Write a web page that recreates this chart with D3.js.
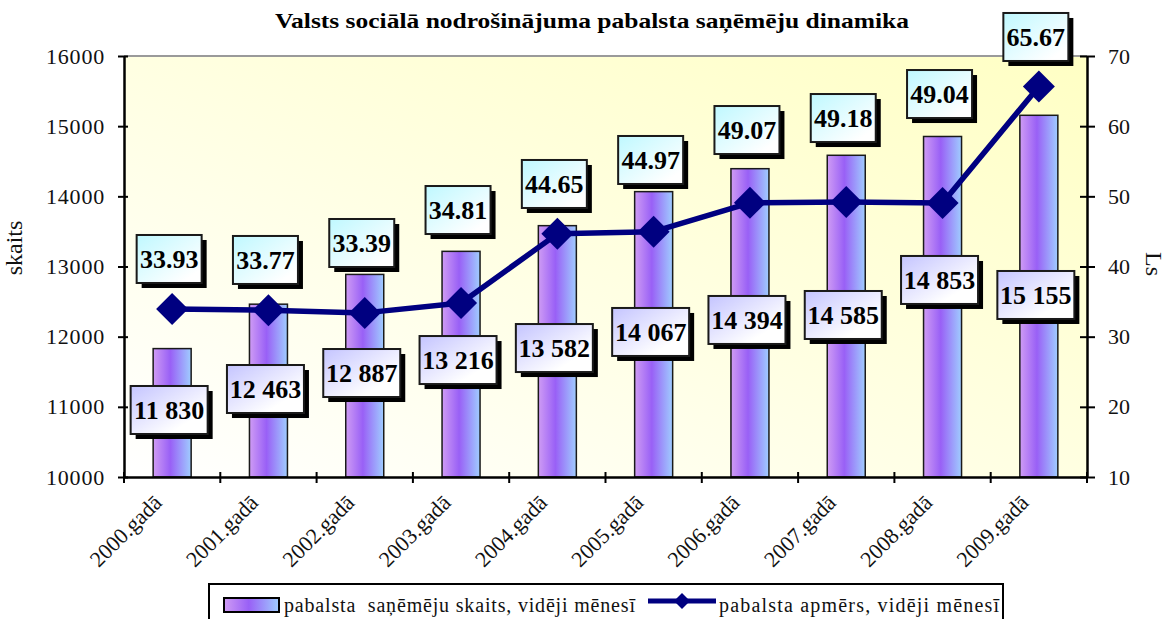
<!DOCTYPE html>
<html>
<head>
<meta charset="utf-8">
<script src="https://cdn.jsdelivr.net/npm/d3@7"></script>
<style>
  text { font-family: "Liberation Serif", "Times New Roman", serif !important; }
</style>
</head>
<body style="margin:0">
<script>
// data
const years = ['2000.gadā', '2001.gadā', '2002.gadā', '2003.gadā', '2004.gadā',
               '2005.gadā', '2006.gadā', '2007.gadā', '2008.gadā', '2009.gadā'];
const recipients = [11830, 12463, 12887, 13216, 13582, 14067, 14394, 14585, 14853, 15155];
const amounts = [33.93, 33.77, 33.39, 34.81, 44.65, 44.97, 49.07, 49.18, 49.04, 65.67];
const leftTicks = [10000, 11000, 12000, 13000, 14000, 15000, 16000];
const rightTicks = [10, 20, 30, 40, 50, 60, 70];
// where the value boxes sit (in axis units), they were dragged by hand in the original
const barLabelAt = [10955, 11254, 11482, 11667, 11838, 12067, 12238, 12309, 12808, 12594];
const lineLabelAt = [41.07, 40.93, 43.35, 48.05, 51.76, 55.18, 59.45, 61.16, 64.58, 72.71];

const W = 1169, H = 619;
const plot = { left: 124, right: 1087, top: 56, bottom: 477 };
const SERIF = '"Liberation Serif"';

const svg = d3.select('body').append('svg')
  .attr('width', W).attr('height', H);

const defs = svg.append('defs');

const bg = defs.append('linearGradient').attr('id', 'bgGrad')
  .attr('x1', 0).attr('y1', 1).attr('x2', 1).attr('y2', 0);
bg.append('stop').attr('offset', 0).attr('stop-color', '#ffffff');
bg.append('stop').attr('offset', 1).attr('stop-color', '#ffffc4');

const barGrad = defs.append('linearGradient').attr('id', 'barGrad')
  .attr('x1', 0).attr('y1', 0).attr('x2', 1).attr('y2', 0);
barGrad.append('stop').attr('offset', 0).attr('stop-color', '#cf9cf4');
barGrad.append('stop').attr('offset', 0.45).attr('stop-color', '#9960f6');
barGrad.append('stop').attr('offset', 1).attr('stop-color', '#9fcdff');

const lavGrad = defs.append('linearGradient').attr('id', 'lavGrad')
  .attr('x1', 0).attr('y1', 0).attr('x2', 1).attr('y2', 1);
lavGrad.append('stop').attr('offset', 0).attr('stop-color', '#c4c4ff');
lavGrad.append('stop').attr('offset', 0.75).attr('stop-color', '#ffffff');

const cyanGrad = defs.append('linearGradient').attr('id', 'cyanGrad')
  .attr('x1', 0).attr('y1', 0).attr('x2', 1).attr('y2', 1);
cyanGrad.append('stop').attr('offset', 0).attr('stop-color', '#bff8ff');
cyanGrad.append('stop').attr('offset', 0.85).attr('stop-color', '#ffffff');

const x = d3.scaleBand().domain(years).range([plot.left, plot.right]);
const yL = d3.scaleLinear().domain([10000, 16000]).range([plot.bottom, plot.top]);
const yR = d3.scaleLinear().domain([10, 70]).range([plot.bottom, plot.top]);
const cx = d => x(d) + x.bandwidth() / 2;

// title
svg.append('text')
  .attr('x', 592).attr('y', 28)
  .attr('text-anchor', 'middle')
  .attr('font-weight', 'bold').attr('font-size', 22)
  .attr('textLength', 634).attr('lengthAdjust', 'spacingAndGlyphs')
  .text('Valsts sociālā nodrošinājuma pabalsta saņēmēju dinamika');

// plot area
svg.append('rect')
  .attr('x', plot.left).attr('y', plot.top)
  .attr('width', plot.right - plot.left).attr('height', plot.bottom - plot.top)
  .attr('fill', 'url(#bgGrad)');
svg.append('line')
  .attr('x1', plot.left).attr('x2', plot.right)
  .attr('y1', plot.top).attr('y2', plot.top)
  .attr('stroke', '#9a9a9a').attr('stroke-width', 2);

// bars
const barW = 38;
svg.append('g').selectAll('rect')
  .data(years)
  .join('rect')
  .attr('x', d => cx(d) - barW / 2)
  .attr('y', (d, i) => yL(recipients[i]))
  .attr('width', barW)
  .attr('height', (d, i) => plot.bottom - yL(recipients[i]))
  .attr('fill', 'url(#barGrad)')
  .attr('stroke', '#1a1a1a').attr('stroke-width', 1.5);

// axes
const axL = svg.append('g').attr('transform', `translate(${plot.left},0)`)
  .call(d3.axisLeft(yL).tickValues(leftTicks).tickFormat(d3.format('d'))
    .tickSize(6).tickSizeOuter(0).tickPadding(13));
axL.selectAll('.tick line').attr('x2', -6).attr('x1', 4);
const axR = svg.append('g').attr('transform', `translate(${plot.right},0)`)
  .call(d3.axisRight(yR).tickValues(rightTicks).tickSize(8).tickSizeOuter(0).tickPadding(13));
axR.selectAll('.tick line').attr('x1', -7).attr('x2', 8);
const axB = svg.append('g').attr('transform', `translate(0,${plot.bottom})`)
  .call(d3.axisBottom(x).tickSize(0).tickSizeOuter(0));
axB.selectAll('.tick').remove();
axB.selectAll('.bound')
  .data(d3.range(years.length + 1))
  .join('line')
  .attr('x1', i => plot.left + i * x.step()).attr('x2', i => plot.left + i * x.step())
  .attr('y1', -5).attr('y2', 6)
  .attr('stroke', '#000').attr('stroke-width', 2);

[axL, axR, axB].forEach(g => {
  g.attr('font-family', SERIF);
  g.select('.domain').attr('stroke', '#000').attr('stroke-width', 2.5);
  g.selectAll('.tick line').attr('stroke', '#000').attr('stroke-width', 2);
  g.selectAll('.tick text').attr('font-size', 22).attr('fill', '#111');
});
axL.selectAll('.tick text').attr('letter-spacing', 0.8);

// category labels
svg.append('g').selectAll('text')
  .data(years)
  .join('text')
  .attr('transform', d => `translate(${cx(d) - 9},${plot.bottom + 27}) rotate(-45)`)
  .attr('text-anchor', 'end')
  .attr('font-size', 22)
  .attr('fill', '#111')
  .text(d => d);

// axis titles
svg.append('text')
  .attr('transform', 'translate(22,248) rotate(-90)')
  .attr('text-anchor', 'middle').attr('font-size', 24).attr('fill', '#111')
  .text('skaits');
svg.append('text')
  .attr('transform', 'translate(1146,264) rotate(90)')
  .attr('text-anchor', 'middle').attr('font-size', 24).attr('fill', '#111')
  .text('Ls');

// line + markers
const line = d3.line().x((d, i) => cx(years[i])).y(d => yR(d));
svg.append('path')
  .datum(amounts)
  .attr('d', line)
  .attr('fill', 'none')
  .attr('stroke', '#000080').attr('stroke-width', 5.5)
  .attr('stroke-linejoin', 'round');
svg.append('g').selectAll('path')
  .data(amounts)
  .join('path')
  .attr('transform', (d, i) => `translate(${cx(years[i])},${yR(d)})`)
  .attr('d', 'M0,-16L16,0L0,16L-16,0Z')
  .attr('fill', '#000080');

// value boxes
function boxes(values, at, scale, w, fill, fmt) {
  const g = svg.append('g').selectAll('g')
    .data(values)
    .join('g')
    .attr('transform', (d, i) => `translate(${cx(years[i]) - 3},${scale(at[i])})`);
  g.append('rect')
    .attr('x', -w / 2 + 5).attr('y', -24 + 5)
    .attr('width', w).attr('height', 48)
    .attr('fill', '#000');
  g.append('rect')
    .attr('x', -w / 2).attr('y', -24)
    .attr('width', w).attr('height', 48)
    .attr('fill', fill)
    .attr('stroke', '#1a1a1a').attr('stroke-width', 2);
  g.append('text')
    .attr('text-anchor', 'middle').attr('y', 9)
    .attr('font-weight', 'bold').attr('font-size', 26).attr('fill', '#000')
    .text(fmt);
}
boxes(recipients, barLabelAt, yL, 77, 'url(#lavGrad)', d => d3.format(',')(d).replace(',', ' '));
boxes(amounts, lineLabelAt, yR, 65, 'url(#cyanGrad)', d => d3.format('.2f')(d));

// legend
const leg = svg.append('g');
leg.append('rect')
  .attr('x', 209).attr('y', 584).attr('width', 794).attr('height', 50)
  .attr('fill', '#fff').attr('stroke', '#000').attr('stroke-width', 2);
leg.append('rect')
  .attr('x', 224).attr('y', 598).attr('width', 55).attr('height', 14)
  .attr('fill', 'url(#barGrad)').attr('stroke', '#000').attr('stroke-width', 2);
leg.append('text')
  .attr('x', 284).attr('y', 612).attr('font-size', 20).attr('fill', '#111')
  .attr('textLength', 351).attr('lengthAdjust', 'spacing')
  .style('white-space', 'pre')
  .text('pabalsta  saņēmēju skaits, vidēji mēnesī');
leg.append('line')
  .attr('x1', 648).attr('x2', 716).attr('y1', 601).attr('y2', 601)
  .attr('stroke', '#000080').attr('stroke-width', 5);
leg.append('path')
  .attr('transform', 'translate(682,601)')
  .attr('d', 'M0,-8L8,0L0,8L-8,0Z')
  .attr('fill', '#000080');
leg.append('text')
  .attr('x', 719).attr('y', 612).attr('font-size', 20).attr('fill', '#111')
  .attr('textLength', 280).attr('lengthAdjust', 'spacing')
  .text('pabalsta apmērs, vidēji mēnesī');

// every text in Times-like serif
svg.selectAll('text').attr('font-family', SERIF).style('font-family', SERIF);
</script>
</body>
</html>
